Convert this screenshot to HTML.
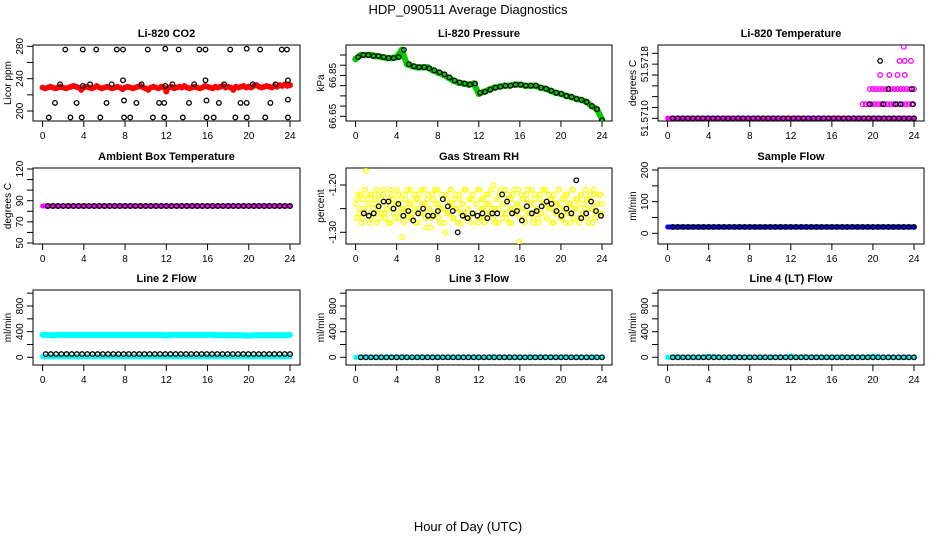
<!DOCTYPE html>
<html><head><meta charset="utf-8">
<style>
html,body{margin:0;padding:0;background:#fff;}
svg{display:block;font-family:"Liberation Sans",Arial,sans-serif;}
</style></head>
<body>
<svg id="chart" width="936" height="540" viewBox="0 0 936 540" xmlns="http://www.w3.org/2000/svg">
<text x="468" y="14" font-size="13" text-anchor="middle">HDP_090511  Average Diagnostics</text>
<text x="468" y="531" font-size="13" text-anchor="middle">Hour of Day (UTC)</text>
</svg>
<script>
// ---------- data ----------
const xTicks = [0,4,8,12,16,20,24];
const co2Red = [229,228,229,230,229,228,229,230,229,228,229,230,231,230,229,226,229,230,229,228,229,231,229,228,229,230,229,228,229,230,229,227,229,230,229,228,229,230,231,229,228,226,229,230,229,228,230,229,224,229,230,228,229,230,229,231,229,228,229,230,229,228,229,231,230,229,228,230,229,230,231,229,230,229,226,230,229,230,231,229,230,229,231,232,230,229,230,231,230,229,231,230,232,231,233,231,232];
const co2BlackHours = [0.6,1.2,1.7,2.2,2.7,3.3,3.8,3.9,3.9,4.6,5.2,5.6,6.2,6.7,7.2,7.8,7.8,7.9,7.9,8.5,9.1,9.6,10.2,10.7,11.3,11.8,11.8,11.9,11.9,12.6,13.2,13.6,14.2,14.7,15.2,15.8,15.8,15.9,15.9,16.6,17.1,17.6,18.2,18.7,19.2,19.8,19.8,19.8,20.4,21.1,21.6,22.1,22.6,23.2,23.7,23.8,23.8,23.8];
const co2BlackVals = [192,210,233,276,192,210,192,231,276,233,276,192,210,233,276,276,238,192,213,192,210,233,276,192,210,192,210,231,277,233,276,192,210,233,276,276,238,192,213,192,210,233,276,192,210,192,210,277,233,276,192,210,233,276,276,192,214,238];
const presGreen = [66.93,66.95,66.95,66.95,66.945,66.94,66.935,66.935,66.94,66.975,66.905,66.895,66.89,66.89,66.89,66.875,66.865,66.855,66.84,66.825,66.815,66.81,66.805,66.81,66.76,66.77,66.78,66.79,66.795,66.80,66.80,66.805,66.805,66.80,66.80,66.80,66.79,66.785,66.775,66.765,66.76,66.75,66.745,66.735,66.73,66.72,66.70,66.685,66.635];
const presBlack = [66.94,66.95,66.95,66.945,66.945,66.94,66.935,66.935,66.94,66.975,66.905,66.895,66.89,66.89,66.885,66.875,66.865,66.855,66.84,66.825,66.815,66.81,66.805,66.81,66.765,66.77,66.78,66.79,66.795,66.80,66.80,66.805,66.805,66.80,66.80,66.80,66.79,66.785,66.775,66.765,66.76,66.75,66.745,66.735,66.73,66.72,66.70,66.685,66.63];
const tLevels = [51.57100,51.57113,51.57127,51.57140,51.57153,51.57166];
const tempBase = [0,0,0,0,0,0,0,0,0,0,0,0,0,0,0,0,0,0,0,0,0,0,0,0,0,0,0,0,0,0,0,0,0,0,0,0,0,0,0,0,0,0,0,0,0,0,0,0,0,0,0,0,0,0,0,0,0,0,0,0,0,0,0,0,0,0,0,0,0,0,0,0,0,0,0,0,0,0,0,0,0,0,0,0,0,0,0,0,0,0,0,0,0,0,0,0,0];
const tempMagHours = [19.0,19.3,19.6,19.9,20.2,20.5,20.8,21.1,21.4,21.7,22.0,22.3,22.6,22.9,23.2,23.5,23.8,19.7,20.0,20.3,20.6,20.9,21.2,21.5,21.8,22.1,22.4,22.7,23.0,23.3,23.6,24.0,20.7,21.6,22.4,23.1,22.6,23.1,23.7,23.0];
const tempMagLevels = [1,1,1,1,1,1,1,1,1,1,1,1,1,1,1,1,1,2,2,2,2,2,2,2,2,2,2,2,2,2,2,2,3,3,3,3,4,4,4,5];
const tempBlack = [0,0,0,0,0,0,0,0,0,0,0,0,0,0,0,0,0,0,0,0,0,0,0,0,0,0,0,0,0,0,0,0,0,0,0,0,0,0,0,0,0,0,0,0,0,0,0,0,0];
const tempBlackHours = [19.7,21.0,22.2,22.7,21.5,23.8,20.7,23.9];
const tempBlackLevels = [1,1,1,1,2,2,4,1];
const ambMag = [85,85,85,85,85,85,85,85,85,85,85,85,85,85,85,85,85,85,85,85,85,85,85,85,85,85,85,85,85,85,85,85,85,85,85,85,85,85,85,85,85,85,85,85,85,85,85,85,85];
const ambBlack = [85,85,85,85,85,85,85,85,85,85,85,85,85,85,85,85,85,85,85,85,85,85,85,85,85,85,85,85,85,85,85,85,85,85,85,85,85,85,85,85,85,85,85,85,85,85,85,85];
const rhYellowA = [-1.24,-1.23,-1.26,-1.22,-1.27,-1.25,-1.17,-1.23,-1.28,-1.22,-1.24,-1.26,-1.21,-1.25,-1.27,-1.23,-1.22,-1.26,-1.24,-1.28,-1.21,-1.25,-1.23,-1.27,-1.24,-1.22,-1.26,-1.31,-1.25,-1.23,-1.21,-1.27,-1.24,-1.26,-1.22,-1.28,-1.23,-1.25,-1.21,-1.26,-1.24,-1.29,-1.22,-1.25,-1.27,-1.23,-1.21,-1.26,-1.24,-1.28,-1.22,-1.25,-1.30,-1.23,-1.26,-1.21,-1.24,-1.27,-1.22,-1.25,-1.23,-1.28,-1.24,-1.26,-1.21,-1.25,-1.27,-1.23,-1.22,-1.26,-1.24,-1.28,-1.21,-1.25,-1.23,-1.27,-1.24,-1.22,-1.26,-1.25,-1.20,-1.28,-1.23,-1.25,-1.21,-1.27,-1.24,-1.26,-1.22,-1.28,-1.23,-1.25,-1.21,-1.26,-1.24,-1.32,-1.22,-1.25,-1.27,-1.23,-1.21,-1.26,-1.24,-1.28,-1.22,-1.25,-1.27,-1.23,-1.26,-1.21,-1.24,-1.27,-1.22,-1.25,-1.23,-1.28,-1.24,-1.26,-1.21,-1.25,-1.27,-1.23,-1.22,-1.26,-1.24,-1.28,-1.21,-1.25,-1.23,-1.27,-1.24,-1.22,-1.26,-1.25,-1.23,-1.28,-1.22,-1.25,-1.21,-1.27,-1.24,-1.26,-1.22,-1.24];
const rhYellowB = [-1.27,-1.22,-1.25,-1.28,-1.23,-1.21,-1.26,-1.24,-1.22,-1.27,-1.25,-1.23,-1.28,-1.22,-1.24,-1.26,-1.21,-1.27,-1.25,-1.23,-1.28,-1.22,-1.26,-1.24,-1.21,-1.27,-1.23,-1.25,-1.28,-1.22,-1.26,-1.24,-1.21,-1.27,-1.25,-1.23,-1.28,-1.22,-1.26,-1.24,-1.21,-1.27,-1.23,-1.25,-1.29,-1.22,-1.26,-1.24,-1.21,-1.27,-1.25,-1.23,-1.28,-1.22,-1.26,-1.24,-1.21,-1.27,-1.23,-1.25,-1.28,-1.22,-1.26,-1.24,-1.21,-1.27,-1.25,-1.23,-1.28,-1.22,-1.26,-1.24,-1.21,-1.27,-1.23,-1.25,-1.28,-1.22,-1.26,-1.24,-1.21,-1.27,-1.25,-1.23,-1.28,-1.22,-1.26,-1.24,-1.21,-1.27,-1.23,-1.25,-1.28,-1.22,-1.26,-1.24,-1.21,-1.27,-1.25,-1.23,-1.28,-1.22,-1.26,-1.24,-1.21,-1.27,-1.23,-1.25,-1.28,-1.22,-1.26,-1.24,-1.21,-1.27,-1.25,-1.23,-1.28,-1.22,-1.26,-1.24,-1.21,-1.27,-1.23,-1.25,-1.28,-1.22,-1.26,-1.24,-1.21,-1.27,-1.25,-1.23,-1.28,-1.22,-1.26,-1.24,-1.21,-1.27,-1.23,-1.25,-1.28,-1.22,-1.26,-1.24,-1.22,-1.26];
const rhBlack = [-1.26,-1.265,-1.26,-1.245,-1.235,-1.235,-1.25,-1.24,-1.265,-1.255,-1.275,-1.26,-1.25,-1.265,-1.265,-1.255,-1.23,-1.245,-1.255,-1.3,-1.265,-1.27,-1.26,-1.265,-1.26,-1.27,-1.26,-1.26,-1.22,-1.235,-1.26,-1.255,-1.275,-1.245,-1.26,-1.255,-1.245,-1.235,-1.24,-1.255,-1.265,-1.25,-1.26,-1.19,-1.27,-1.26,-1.235,-1.255,-1.265];
const sampleBlue = [20,20,20,20,20,20,20,20,20,20,20,20,20,20,20,20,20,20,20,20,20,20,20,20,20,20,20,20,20,20,20,20,20,20,20,20,20,20,20,20,20,20,20,20,20,20,20,20,20];
const sampleBlack = [20,20,20,20,20,20,20,20,20,20,20,20,20,20,20,20,20,20,20,20,20,20,20,20,20,20,20,20,20,20,20,20,20,20,20,20,20,20,20,20,20,20,20,20,20,20,20,20];
const line2CyanHigh = [350,350,340,350,350,350,350,350,350,350,350,350,350,350,350,350,350,350,350,350,350,350,350,350,340,350,350,350,350,350,350,350,350,350,345,345,345,345,345,345,335,345,345,345,345,345,345,345,350];
const line2CyanLow = [10,10,10,10,10,10,10,10,10,10,10,10,10,10,10,10,10,10,10,10,10,10,10,10,10,10,10,10,10,10,10,10,10,10,10,10,10,10,10,10,10,10,10,10,10,10,10,10,10];
const line2Black = [50,50,50,50,50,50,50,50,50,50,50,50,50,50,50,50,50,50,50,50,50,50,50,50,50,50,50,50,50,50,50,50,50,50,50,50,50,50,50,50,50,50,50,50,50,50,50,50];
const line3Cyan = [0,0,0,0,0,0,0,0,0,0,0,0,0,0,0,0,0,0,0,0,0,0,0,0,0,0,0,0,0,0,0,0,0,0,0,0,0,0,0,0,0,0,0,0,0,0,0,0,0];
const line3Black = [0,0,0,0,0,0,0,0,0,0,0,0,0,0,0,0,0,0,0,0,0,0,0,0,0,0,0,0,0,0,0,0,0,0,0,0,0,0,0,0,0,0,0,0,0,0,0,0];
const line4Cyan = [0,0,0,0,0,0,0,0,20,0,0,0,0,0,0,0,0,0,0,0,0,0,0,0,20,0,0,0,0,0,0,0,0,0,0,0,0,0,0,0,20,0,0,0,0,0,0,0,0];
const line4Black = [0,0,0,0,0,0,0,0,0,0,0,0,0,0,0,0,0,0,0,0,0,0,0,0,0,0,0,0,0,0,0,0,0,0,0,0,0,0,0,0,0,0,0,0,0,0,0,0];

// ---------- layout ----------
const svg = document.getElementById('chart');
const NS = 'http://www.w3.org/2000/svg';
const cols = [{L:33,R:300},{L:346,R:612},{L:658,R:924}];
const rows = [{T:45,B:121},{T:168,B:244},{T:290,B:365}];
function mk(tag, attrs){ const e=document.createElementNS(NS,tag); for(const k in attrs) e.setAttribute(k,attrs[k]); return e; }

function makePanel(c, r, title, yTitle, v0, p0, v1, p1, yTickVals, yTickLabels){
  const col=cols[c], row=rows[r];
  const g = mk('g',{});
  
  
  svg.appendChild(g);
  const x0=col.L+9.6, x24=col.R-10;
  const xs = h => x0 + h*(x24-x0)/24;
  const ys = v => p0 + (v-v0)*(p1-p0)/(v1-v0);
  const box = mk('rect',{x:col.L,y:row.T,width:col.R-col.L,height:row.B-row.T,fill:'none',stroke:'#000','stroke-width':1});
  
  
  g.appendChild(box);
  const t = mk('text',{x:(col.L+col.R)/2,y:row.T-8,'font-size':11,'font-weight':'bold','text-anchor':'middle'});
  t.textContent=title;
  
  
  g.appendChild(t);
  const xa = mk('g',{stroke:'#000','stroke-width':1});
  
  
  g.appendChild(xa);
  xTicks.forEach(v=>{
    xa.appendChild(mk('line',{x1:xs(v),x2:xs(v),y1:row.B,y2:row.B+6}));
    const tl = mk('text',{x:xs(v),y:row.B+18,'font-size':10,'text-anchor':'middle',stroke:'none'});
    tl.textContent=v;
    
    
    xa.appendChild(tl);
  });
  const ya = mk('g',{stroke:'#000','stroke-width':1});
  
  
  g.appendChild(ya);
  yTickVals.forEach((v,i)=>{
    const y=ys(v);
    if (y>=row.T-0.5 && y<=row.B+0.5) ya.appendChild(mk('line',{x1:col.L-6,x2:col.L,y1:y,y2:y}));
    if (yTickLabels[i]) {
      const tl = mk('text',{x:col.L-10,y:y,'font-size':10,'text-anchor':'middle',stroke:'none',transform:`rotate(-90 ${col.L-10} ${y})`});
      tl.textContent=yTickLabels[i];
      
      
      ya.appendChild(tl);
    }
  });
  const yt = mk('text',{x:col.L-22,y:(row.T+row.B)/2,'font-size':10,'text-anchor':'middle',transform:`rotate(-90 ${col.L-22} ${(row.T+row.B)/2})`});
  yt.textContent=yTitle;
  
  
  g.appendChild(yt);
  const clip = 'clip'+c+r;
  const cp = mk('clipPath',{id:clip}); cp.appendChild(mk('rect',{x:col.L,y:row.T,width:col.R-col.L,height:row.B-row.T}));
  g.appendChild(cp);
  const pts = mk('g',{'clip-path':`url(#${clip})`});
  g.appendChild(pts);
  return {xs, ys, pts};
}

function seriesByIndex(P, vals, color, name, startH, endH, sw){
  const s = mk('g',{fill:'none',stroke:color,'stroke-width':sw||1.3});
  
  
  P.pts.appendChild(s);
  vals.forEach((v,i)=>{
    const h = startH + i*(endH-startH)/(vals.length-1);
    s.appendChild(mk('circle',{cx:P.xs(h),cy:P.ys(v),r:2.3}));
  });
  return s;
}
function seriesByPairs(P, hours, vals, color, name){
  const s = mk('g',{fill:'none',stroke:color,'stroke-width':1.3});
  
  
  P.pts.appendChild(s);
  hours.forEach((h,i)=>{
    s.appendChild(mk('circle',{cx:P.xs(h),cy:P.ys(vals[i]),r:2.3}));
  });
}
function band(P, vals, color, name, startH, endH, w){
  const d = vals.map((v,i)=>{ const h=startH+i*(endH-startH)/(vals.length-1); return (i?'L':'M')+P.xs(h).toFixed(1)+' '+P.ys(v).toFixed(1);}).join(' ');
  const p = mk('path',{d:d,fill:'none',stroke:color,'stroke-width':w,'stroke-linejoin':'round','stroke-linecap':'round'});
  
  
  P.pts.appendChild(p);
}

let P = makePanel(0,0,'Li-820 CO2','Licor ppm',200,111,280,46.3,[200,220,240,260,280],['200','','240','','280']);
band(P, co2Red, '#ff0000','co2-red-band',0,24,4);
seriesByIndex(P, co2Red, '#ff0000','co2-red-series',0,24);
seriesByPairs(P, co2BlackHours, co2BlackVals, '#000','co2-black-series');

P = makePanel(1,0,'Li-820 Pressure','kPa',66.65,116.3,66.95,55,[66.65,66.70,66.75,66.80,66.85,66.90,66.95],['66.65','','','','66.85','','']);
band(P, presGreen, '#00cc00','pressure-green-band',0,24,6);
seriesByIndex(P, presGreen, '#00cc00','pressure-green-series',0,24,2);
seriesByIndex(P, presBlack, '#000','pressure-black-series',0.25,24);

P = makePanel(2,0,'Li-820 Temperature','degrees C',51.5710,118.3,51.5711,107.47,[51.5710,51.5711,51.5712,51.5713,51.5714,51.5715,51.5716],['51.5710','','','','','51.5718','']);
band(P, tempBase.map(k=>tLevels[k]), '#ff00ff','temp-magenta-band',0,24,5);
seriesByPairs(P, tempMagHours, tempMagLevels.map(k=>tLevels[k]), '#ff00ff','temp-magenta-series');
seriesByIndex(P, tempBlack.map(k=>tLevels[k]), '#000','temp-black-series',0.5,24);
seriesByPairs(P, tempBlackHours, tempBlackLevels.map(k=>tLevels[k]), '#000','temp-black-extra');

P = makePanel(0,1,'Ambient Box Temperature','degrees C',50,243,120,169,[50,60,70,80,90,100,110,120],['50','','70','','90','','','120']);
band(P, ambMag, '#ff00ff','ambient-magenta-band',0,24,5);
seriesByIndex(P, ambBlack, '#000','ambient-black-series',0.5,24);

P = makePanel(1,1,'Gas Stream RH','percent',-1.20,185,-1.30,232.3,[-1.20,-1.25,-1.30],['-1.20','','-1.30']);
seriesByIndex(P, rhYellowA, '#ffff00','rh-yellow-series-a',0,24);
seriesByIndex(P, rhYellowB, '#ffff00','rh-yellow-series-b',0.08,23.9);
seriesByIndex(P, rhBlack, '#000','rh-black-series',0.8,23.9);

P = makePanel(2,1,'Sample Flow','ml/min',0,233.3,200,170,[0,50,100,150,200],['0','','100','','200']);
band(P, sampleBlue, '#0000ff','sample-blue-band',0,24,5);
seriesByIndex(P, sampleBlack, '#000','sample-black-series',0.5,24);

const fT=[0,200,400,600,800,1000], fL=['0','','400','','800',''];
P = makePanel(0,2,'Line 2 Flow','ml/min',0,357.3,800,306,fT,fL);
band(P, line2CyanHigh, '#00ffff','line2-cyan-high-band',0,24,6);
band(P, line2CyanLow, '#00ffff','line2-cyan-low-band',0,24,5);
seriesByIndex(P, line2Black, '#000','line2-black-series',0.3,24);

P = makePanel(1,2,'Line 3 Flow','ml/min',0,357.3,800,306,fT,fL);
band(P, line3Cyan, '#00ffff','line3-cyan-band',0,24,5);
seriesByIndex(P, line3Black, '#000','line3-black-series',0.5,24);

P = makePanel(2,2,'Line 4 (LT) Flow','ml/min',0,357.3,800,306,fT,fL);
band(P, line4Cyan, '#00ffff','line4-cyan-band',0,24,5);
seriesByIndex(P, line4Black, '#000','line4-black-series',0.5,24);
</script>
</body></html>
